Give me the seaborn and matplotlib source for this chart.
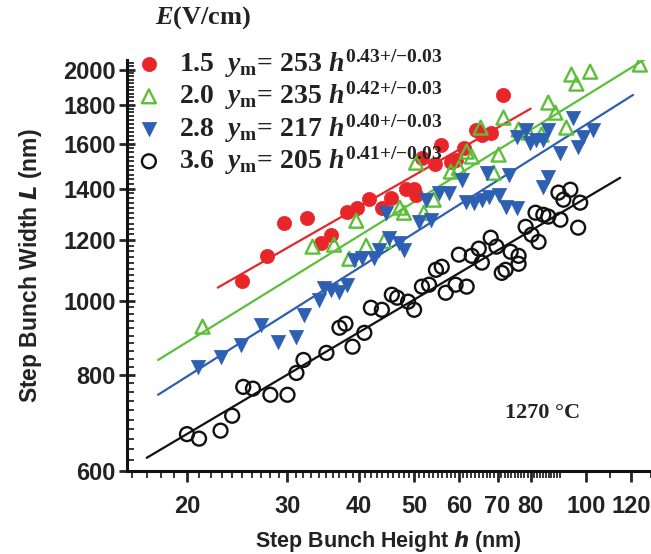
import matplotlib
matplotlib.use("Agg")
import numpy as np
import pandas as pd
import matplotlib.pyplot as plt
import seaborn as sns
from matplotlib.ticker import FixedLocator, NullFormatter, FixedFormatter
from matplotlib.font_manager import FontProperties

# dados (h em nm, L em nm)
h_15 = [25.0, 27.6, 29.6, 32.4, 34.4, 35.8, 38.2, 39.7, 41.7, 43.9, 45.6, 48.4,
        50.0, 50.4, 51.6, 54.4, 55.7, 58.0, 59.1, 61.1, 64.1, 65.7, 68.1, 71.7]
L_15 = [1062, 1144, 1263, 1283, 1190, 1219, 1306, 1322, 1358, 1322, 1362, 1399,
        1399, 1374, 1536, 1508, 1597, 1518, 1527, 1583, 1671, 1646, 1656, 1856]

h_20 = [21.3, 33.2, 36.2, 38.5, 39.6, 41.2, 44.3, 47.2, 48.0, 50.4, 52.0, 54.1,
        58.0, 59.9, 61.8, 63.1, 65.4, 68.9, 70.3, 71.7, 76.2, 79.3, 83.6, 85.9,
        88.4, 92.4, 94.3, 96.2, 101.7, 124.3]
L_20 = [925, 1176, 1183, 1134, 1271, 1179, 1197, 1322, 1302, 1513, 1302, 1354,
        1473, 1490, 1564, 1541, 1681, 1468, 1550, 1732, 1671, 1656, 1646, 1812,
        1758, 1681, 1971, 1918, 1988, 2031]

h_28 = [20.9, 22.9, 24.9, 27.0, 28.9, 31.0, 32.1, 34.1, 34.8, 35.8, 37.0, 38.2,
        39.3, 40.6, 42.6, 43.4, 45.2, 47.0, 48.0, 44.7, 51.0, 53.5, 52.4, 55.2,
        57.5, 60.6, 61.6, 63.6, 65.7, 67.5, 67.0, 70.3, 72.3, 75.6, 73.2, 75.6,
        78.4, 79.9, 81.9, 84.2, 85.9, 84.2, 85.9, 90.2, 95.0, 96.9, 98.9, 102.9]
L_28 = [820, 845, 876, 930, 884, 897, 959, 1003, 1040, 1033, 1027, 1049,
        1131, 1137, 1137, 1165, 1208, 1190, 1165, 1302, 1267, 1275, 1354, 1383,
        1383, 1438, 1346, 1342, 1354, 1366, 1468, 1374, 1326, 1322, 1460, 1636,
        1671, 1607, 1621, 1621, 1671, 1408, 1451, 1559, 1732, 1587, 1636, 1671]

h_36 = [20.0, 21.0, 22.9, 24.0, 25.1, 26.1, 28.0, 30.0, 31.1, 32.0, 35.1, 37.0,
        37.9, 39.0, 40.9, 42.0, 43.9, 45.7, 46.7, 48.8, 50.0, 51.6, 53.1, 54.6,
        55.9, 56.8, 59.1, 61.8, 59.9, 63.1, 64.9, 65.7, 68.1, 69.7, 71.2, 72.3,
        73.8, 76.2, 76.2, 78.4, 80.3, 82.6, 81.6, 84.2, 85.9, 90.2, 89.5, 93.9,
        91.3, 97.7, 96.9]
L_36 = [670, 661, 677, 708, 772, 768, 754, 754, 805, 837, 855, 922,
        933, 871, 908, 979, 973, 1018, 1009, 997, 973, 1043, 1049, 1097,
        1107, 1024, 1049, 1043, 1148, 1144, 1169, 1121, 1208, 1176, 1087, 1097,
        1158, 1144, 1117, 1248, 1219, 1193, 1302, 1294, 1287, 1275, 1383, 1395,
        1354, 1342, 1245]

# retas de ajuste (extremos)
fit_h_15 = [22.65, 80.0]
fit_L_15 = [1040, 1779]
fit_h_20 = [17.8, 128.4]
fit_L_20 = [837, 2075]
fit_h_28 = [17.8, 120.9]
fit_L_28 = [754, 1854]
fit_h_36 = [17.0, 114.8]
fit_L_36 = [624, 1446]

campos = ["1.5", "2.0", "2.8", "3.6"]
prefatores = ["253", "235", "217", "205"]
expoentes = ["0.43{+}/{-}0.03", "0.42{+}/{-}0.03", "0.40{+}/{-}0.03", "0.41{+}/{-}0.03"]

x_ticks = [20, 30, 40, 50, 60, 70, 80, 100, 120]
y_ticks = [600, 800, 1000, 1200, 1400, 1600, 1800, 2000]

vermelho = "#e8262a"
verde = "#5cbf3a"
azul = "#2d5fb2"
preto = "#111111"

sns.set_style("ticks")
plt.rcParams["font.family"] = ["Liberation Sans", "DejaVu Sans"]
plt.rcParams["mathtext.fontset"] = "custom"
plt.rcParams["mathtext.rm"] = "Liberation Serif:bold"
plt.rcParams["mathtext.it"] = "Liberation Serif:italic:bold"
plt.rcParams["mathtext.bf"] = "Liberation Serif:bold"

fig = plt.figure(figsize=(6.51, 5.54), dpi=100)
ax = fig.add_axes([0.195, 0.150, 0.805, 0.742])

series = [
    (h_15, L_15, fit_h_15, fit_L_15, "o", vermelho, True),
    (h_20, L_20, fit_h_20, fit_L_20, "^", verde, False),
    (h_28, L_28, fit_h_28, fit_L_28, "v", azul, True),
    (h_36, L_36, fit_h_36, fit_L_36, "o", preto, False),
]

for i, (hx, Ly, fh, fL, mk, cor, cheio) in enumerate(series):
    rotulo = r"%s  $y_{\rm m}$= %s $h^{%s}$" % (campos[i], prefatores[i], expoentes[i])
    sns.lineplot(x=fh, y=fL, color=cor, linewidth=1.6, ax=ax, legend=False)
    if cheio:
        sns.scatterplot(x=hx, y=Ly, marker=mk, s=105, color=cor, edgecolor=cor,
                        linewidth=0.5, ax=ax, label=rotulo, zorder=3)
    else:
        sns.scatterplot(x=hx, y=Ly, marker=mk, s=100, facecolor="none", edgecolor=cor,
                        linewidth=1.7, ax=ax, label=rotulo, zorder=3)

ax.set_xscale("log")
ax.set_yscale("log")
ax.set_xlim(15.7, 130)
ax.set_ylim(600, 2060)

ax.xaxis.set_major_locator(FixedLocator(x_ticks))
ax.xaxis.set_major_formatter(FixedFormatter([str(v) for v in x_ticks]))
x_minor = [v for v in list(range(16, 91)) + [110, 130] if v not in x_ticks]
ax.xaxis.set_minor_locator(FixedLocator(x_minor))
ax.xaxis.set_minor_formatter(NullFormatter())

ax.yaxis.set_major_locator(FixedLocator(y_ticks))
ax.yaxis.set_major_formatter(FixedFormatter([str(v) for v in y_ticks]))
y_minor = [v for v in range(620, 2060, 20) if v not in y_ticks]
ax.yaxis.set_minor_locator(FixedLocator(y_minor))
ax.yaxis.set_minor_formatter(NullFormatter())

sns.despine(ax=ax)
for s in ["left", "bottom"]:
    ax.spines[s].set_linewidth(2.2)
    ax.spines[s].set_color("#111111")

ax.tick_params(axis="x", which="major", direction="out", length=8, width=2, pad=9)
ax.tick_params(axis="x", which="minor", direction="out", length=5, width=1.3)
ax.tick_params(axis="y", which="major", direction="inout", length=12, width=2, pad=2)
ax.tick_params(axis="y", which="minor", direction="in", length=5, width=1.3)
for lab in ax.get_xticklabels() + ax.get_yticklabels():
    lab.set_fontweight("bold")
    lab.set_fontsize(17)
    lab.set_color("#222222")

ax.set_xlabel(r"Step Bunch Height $\mathbfit{h}$ (nm)", fontsize=15.5, fontweight="bold",
              color="#222222", labelpad=8, math_fontfamily="dejavusans")
ax.set_ylabel(r"Step Bunch Width $\mathbfit{L}$ (nm)", fontsize=16.5, fontweight="bold",
              color="#222222", labelpad=14, math_fontfamily="dejavusans")

ax.text(0.794, 0.141, "1270 °C", transform=ax.transAxes, ha="center", va="center",
        fontsize=16, fontweight="bold", fontfamily="Liberation Serif", color="#222222")

# titulo da legenda como texto separado
fig.text(155 / 651, 1 - 18 / 554, r"$E$(V/cm)", ha="left", va="center",
         fontsize=19, fontweight="bold", fontfamily="Liberation Serif", color="#222222")

handles, labels = ax.get_legend_handles_labels()
leg = ax.legend(handles, labels, loc="upper left",
                bbox_to_anchor=(135 / 651, 1 - 47 / 554), bbox_transform=fig.transFigure,
                frameon=False, prop=FontProperties(family="Liberation Serif", weight="bold", size=20),
                handletextpad=0.6, labelspacing=0.0, borderpad=0, borderaxespad=0,
                handlelength=1.0, markerscale=1.0)
for t in leg.get_texts():
    t.set_color("#222222")

fig.savefig("out.png", dpi=100)
